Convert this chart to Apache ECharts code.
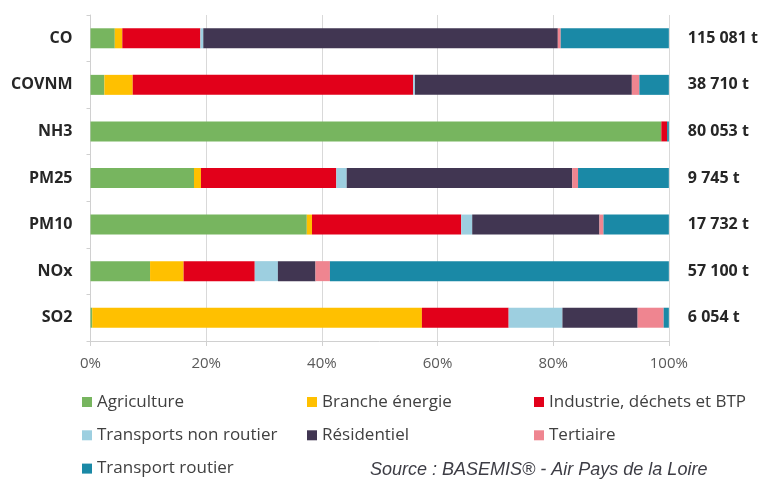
<!DOCTYPE html>
<html>
<head>
<meta charset="utf-8">
<script src="https://cdn.jsdelivr.net/npm/echarts@6/dist/echarts.min.js"></script>
<style>
  html, body { margin: 0; padding: 0; background: #fff; }
  #chart { width: 761px; height: 482px; }
</style>
</head>
<body>
<div id="chart"></div>
<script>
// polluants (axe vertical) et émissions totales
const categories = ['CO', 'COVNM', 'NH3', 'PM25', 'PM10', 'NOx', 'SO2']
const totals = ['115 081 t', '38 710 t', '80 053 t', '9 745 t', '17 732 t', '57 100 t', '6 054 t']

// parts par secteur (%)
const agriculture = [4.2, 2.4, 98.7, 17.9, 37.4, 10.3, 0.3]
const brancheEnergie = [1.3, 4.9, 0, 1.2, 0.9, 5.8, 57.0]
const industrie = [13.5, 48.5, 1.0, 23.4, 25.8, 12.3, 15.0]
const transportsNonRoutier = [0.5, 0.3, 0, 1.8, 1.9, 4.0, 9.3]
const residentiel = [61.3, 37.5, 0, 39.0, 22.0, 6.5, 13.0]
const tertiaire = [0.5, 1.3, 0, 1.0, 0.7, 2.5, 4.5]
const transportRoutier = [18.7, 5.1, 0.3, 15.7, 11.3, 58.6, 0.9]

const xTicks = [0, 20, 40, 60, 80, 100]

const sectors = [
  { name: 'Agriculture', data: agriculture, color: '#77b55f' },
  { name: 'Branche énergie', data: brancheEnergie, color: '#ffc000' },
  { name: 'Industrie, déchets et BTP', data: industrie, color: '#e2001a' },
  { name: 'Transports non routier', data: transportsNonRoutier, color: '#9dcfe0' },
  { name: 'Résidentiel', data: residentiel, color: '#413652' },
  { name: 'Tertiaire', data: tertiaire, color: '#ef8590' },
  { name: 'Transport routier', data: transportRoutier, color: '#1a89a6' }
]

const chart = echarts.init(document.getElementById('chart'))

const legendBase = {
  orient: 'vertical',
  top: 392,
  height: 90,
  padding: 0,
  itemWidth: 10,
  itemHeight: 10,
  itemGap: 13.3,
  icon: 'rect',
  selectedMode: false,
  textStyle: { fontFamily: 'Open Sans', fontSize: 17, color: '#404040', lineHeight: 20 }
}

const option = {
  animation: false,
  textStyle: { fontFamily: 'Open Sans' },
  grid: { left: 90.5, right: 91.5, top: 15, bottom: 141 },
  legend: [
    Object.assign({}, legendBase, { left: 82, data: ['Agriculture', 'Transports non routier', 'Transport routier'] }),
    Object.assign({}, legendBase, { left: 307, data: ['Branche énergie', 'Résidentiel'] }),
    Object.assign({}, legendBase, { left: 534, data: ['Industrie, déchets et BTP', 'Tertiaire'] })
  ],
  xAxis: {
    type: 'value',
    min: xTicks[0],
    max: xTicks[xTicks.length - 1],
    interval: 20,
    axisLine: { show: true, lineStyle: { color: '#d0d0d0' } },
    axisTick: { show: true, length: 5, lineStyle: { color: '#d0d0d0' } },
    splitLine: { show: true, lineStyle: { color: '#d9d9d9' } },
    axisLabel: {
      margin: 15,
      fontSize: 15,
      color: '#595959',
      formatter: '{value}%'
    }
  },
  yAxis: [
    {
      type: 'category',
      data: categories,
      inverse: true,
      axisLine: { show: true, lineStyle: { color: '#d0d0d0' } },
      axisTick: { show: true, length: 4, lineStyle: { color: '#d0d0d0' } },
      axisLabel: { margin: 18, fontSize: 16, fontWeight: 'bold', color: '#262626' }
    },
    {
      type: 'category',
      data: totals,
      inverse: true,
      position: 'right',
      axisLine: { show: false },
      axisTick: { show: false },
      axisLabel: { margin: 19, fontSize: 16, fontWeight: 'bold', color: '#262626' }
    }
  ],
  graphic: [
    {
      type: 'text',
      left: 370,
      top: 461,
      style: {
        text: 'Source : BASEMIS® - Air Pays de la Loire',
        fontFamily: 'Liberation Sans',
        fontStyle: 'italic',
        fontSize: 18,
        fill: '#3d3d45'
      }
    }
  ],
  series: sectors.map(s => ({
    name: s.name,
    type: 'bar',
    stack: 'total',
    barWidth: 20,
    data: s.data,
    itemStyle: { color: s.color }
  }))
}

chart.setOption(option)
</script>
</body>
</html>
